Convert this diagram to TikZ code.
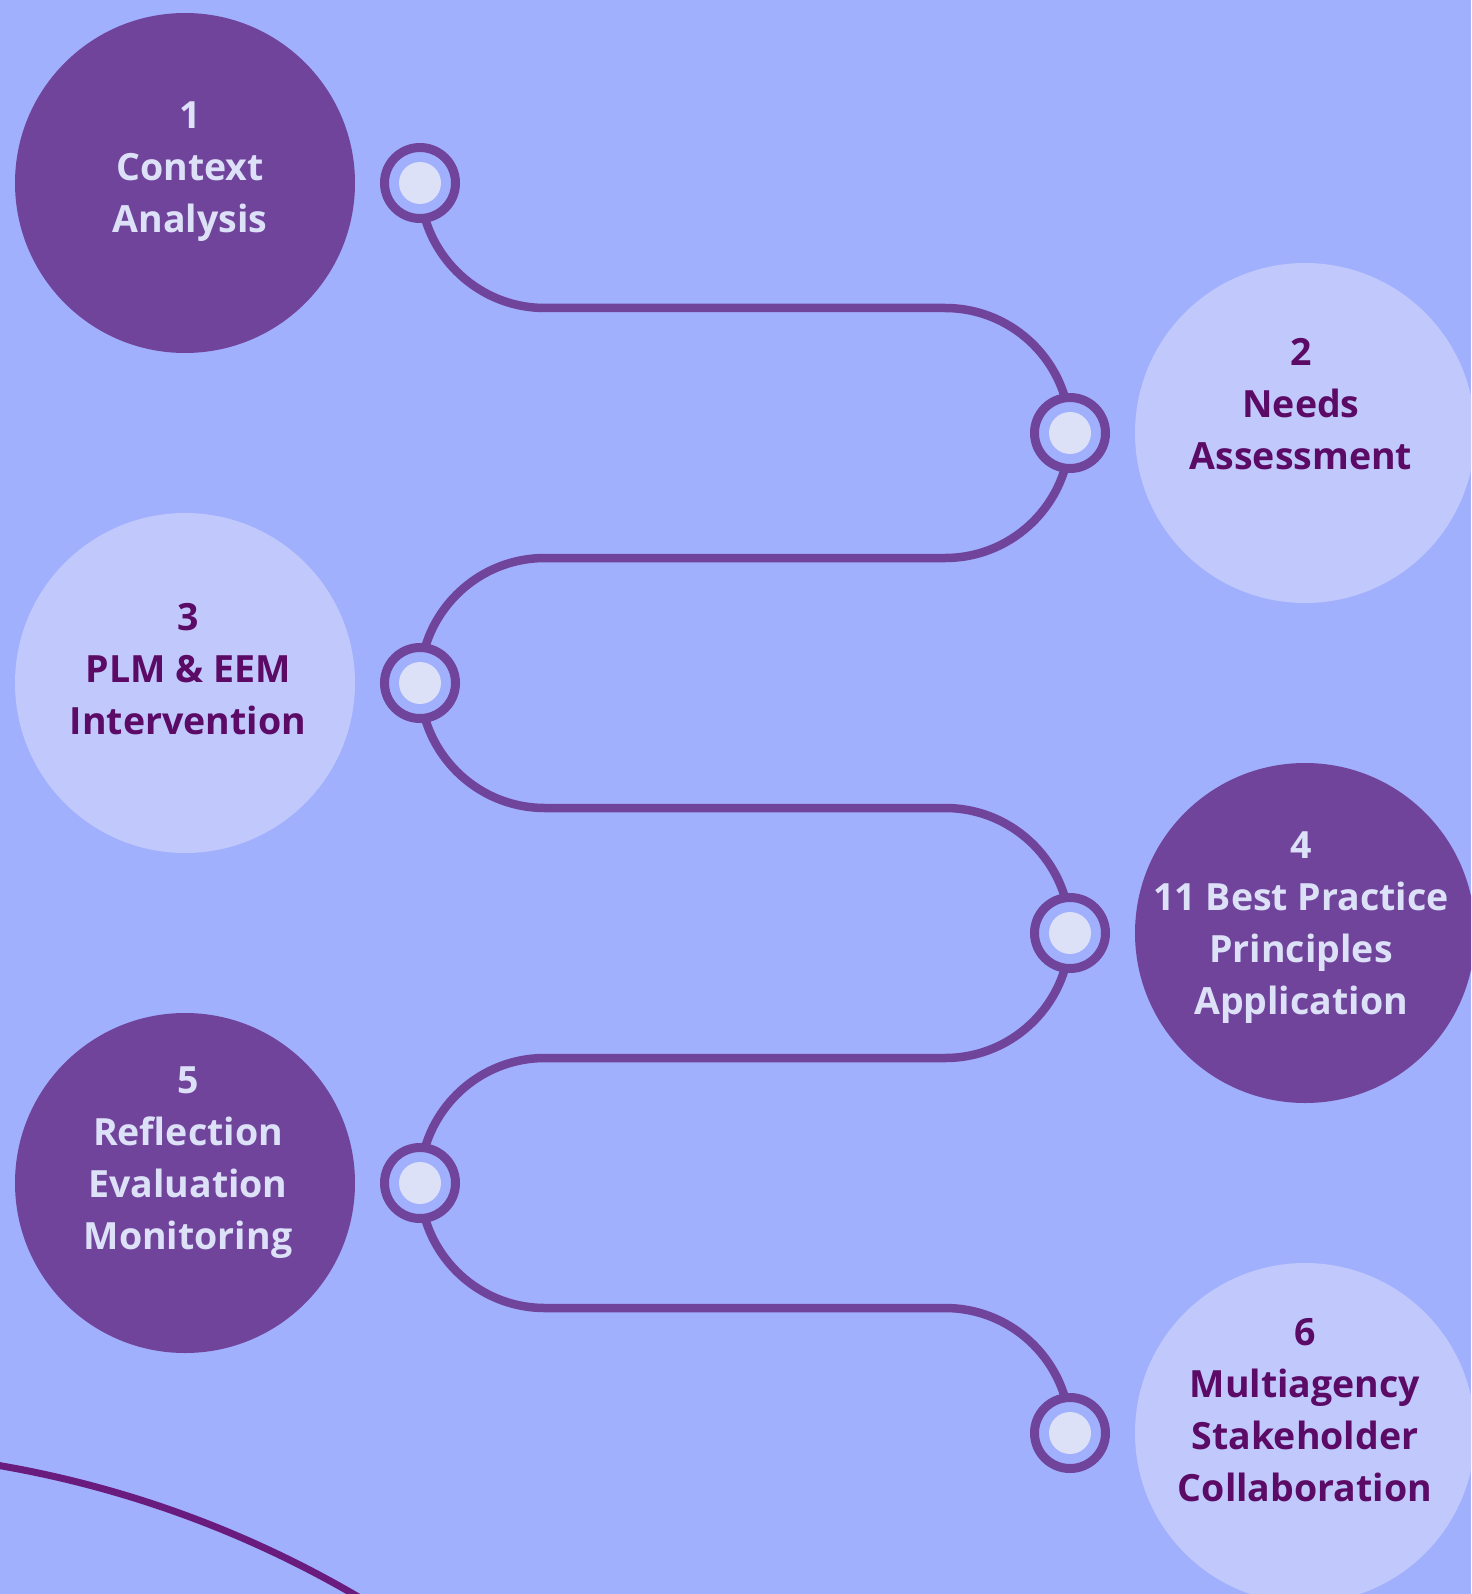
\documentclass[tikz,border=0pt]{standalone}
\usepackage{fontspec}
\setmainfont{Open Sans}
\definecolor{bgblue}{HTML}{A0B0FD}
\definecolor{plum}{HTML}{71449C}
\definecolor{lilac}{HTML}{C0C8FC}
\definecolor{paleink}{HTML}{DCE1F8}
\definecolor{deepink}{HTML}{5B0A66}
\definecolor{swirl}{HTML}{6A1B7E}
\begin{document}
\begin{tikzpicture}[x=1pt,y=1pt,
  bigdark/.style={circle,fill=plum,minimum size=340pt,inner sep=0pt},
  biglight/.style={circle,fill=lilac,minimum size=340pt,inner sep=0pt},
  stepfont/.style={font=\fontsize{37.5}{52}\selectfont\bfseries,align=center,anchor=north,inner sep=0pt},
  onDark/.style={stepfont,text=paleink},
  onLight/.style={stepfont,text=deepink},
  ring/.style={circle,draw=plum,line width=9pt,fill=bgblue,minimum size=71pt,inner sep=0pt},
  dot/.style={circle,fill=paleink,minimum size=42pt,inner sep=0pt},
  conn/.style={draw=plum,line width=8.5pt},
]
\useasboundingbox (0,0) rectangle (1471,-1594);
\clip (0,0) rectangle (1471,-1594);
\fill[bgblue] (0,0) rectangle (1471,-1594);

% decorative sweep in the lower left corner
\draw[swirl,line width=7pt] (-182,-2517) ++(85:1067) arc[start angle=85,end angle=50,radius=1067];

% step discs
\node[bigdark]  (s1) at (185,-183)  {};
\node[biglight] (s2) at (1305,-433) {};
\node[biglight] (s3) at (185,-683)  {};
\node[bigdark]  (s4) at (1305,-933) {};
\node[bigdark]  (s5) at (185,-1183) {};
\node[biglight] (s6) at (1305,-1433) {};

% step labels
\node[onDark]  (t1) at (190,-98)   {\rule{0pt}{30pt}1\\Context\\Analysis};
\node[onLight] (t2) at (1301,-335) {\rule{0pt}{30pt}2\\Needs\\Assessment};
\node[onLight] (t3) at (188,-600)  {\rule{0pt}{30pt}3\\PLM \& EEM\\Intervention};
\node[onDark]  (t4) at (1301,-828) {\rule{0pt}{30pt}4\\11 Best Practice\\Principles\\Application};
\node[onDark]  (t5) at (188,-1063) {\rule{0pt}{30pt}5\\Reflection\\Evaluation\\Monitoring};
\node[onLight] (t6) at (1305,-1315) {\rule{0pt}{30pt}6\\Multiagency\\Stakeholder\\Collaboration};

% waypoints on the winding track
\coordinate (r1) at (420,-183);
\coordinate (r2) at (1070,-433);
\coordinate (r3) at (420,-683);
\coordinate (r4) at (1070,-933);
\coordinate (r5) at (420,-1183);
\coordinate (r6) at (1070,-1433);

% winding track
\draw[conn] (r1) arc[start angle=180,end angle=270,radius=125] -- ++(400,0)
  arc[start angle=90,end angle=0,radius=125];
\draw[conn] (r2) arc[start angle=0,end angle=-90,radius=125] -- ++(-400,0)
  arc[start angle=90,end angle=180,radius=125];
\draw[conn] (r3) arc[start angle=180,end angle=270,radius=125] -- ++(400,0)
  arc[start angle=90,end angle=0,radius=125];
\draw[conn] (r4) arc[start angle=0,end angle=-90,radius=125] -- ++(-400,0)
  arc[start angle=90,end angle=180,radius=125];
\draw[conn] (r5) arc[start angle=180,end angle=270,radius=125] -- ++(400,0)
  arc[start angle=90,end angle=0,radius=125];

% ring markers
\foreach \r in {r1,r2,r3,r4,r5,r6}{
  \node[ring] (\r-ring) at (\r) {};
  \node[dot] (\r-dot) at (\r) {};
}
\end{tikzpicture}
\end{document}
